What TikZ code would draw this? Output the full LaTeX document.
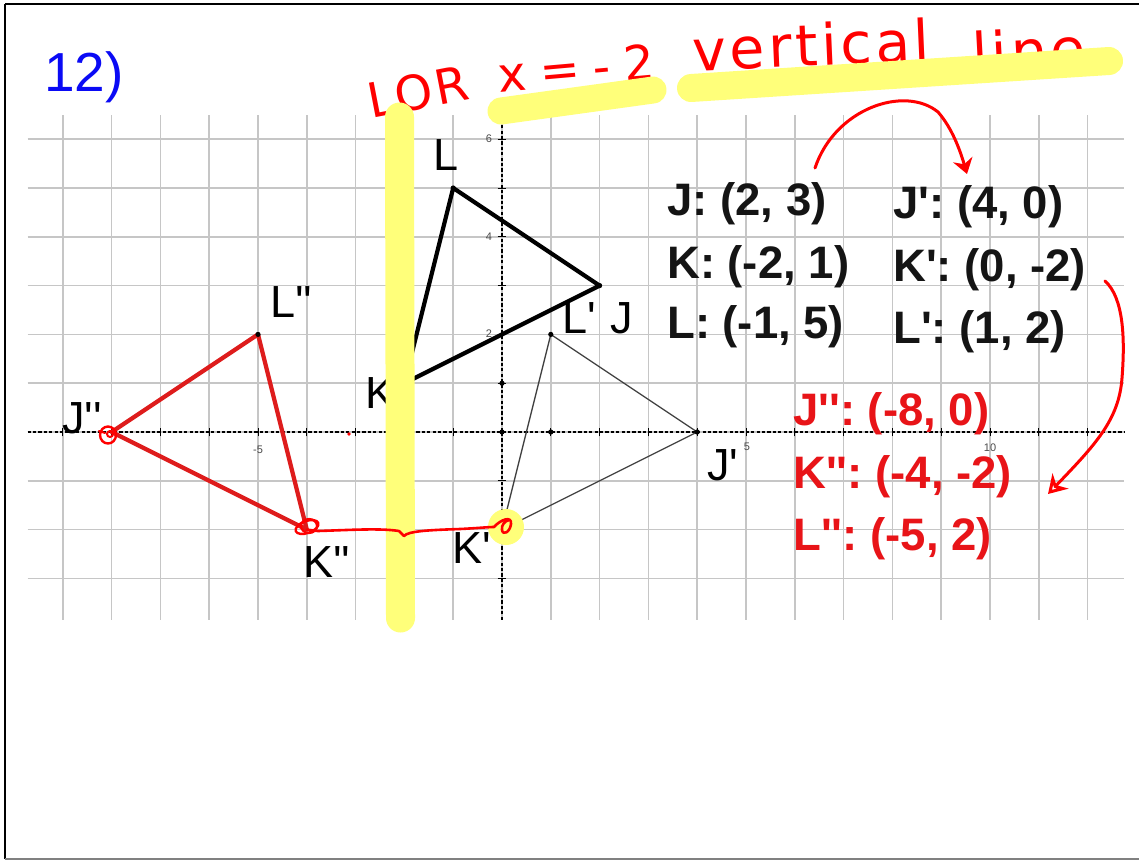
\documentclass[tikz,border=0pt]{standalone}
\usepackage{fontspec}
\setmainfont{Liberation Sans}[Ligatures=TeXOff]
\newfontfamily\handA{DejaVu Sans}[LetterSpace=6]
\newfontfamily\handB{DejaVu Sans}[LetterSpace=28]
\usetikzlibrary{arrows.meta}
\definecolor{hlyellow}{RGB}{255,255,122}
\definecolor{inkred}{RGB}{255,0,0}
\definecolor{txtred}{RGB}{232,20,24}
\definecolor{edgered}{RGB}{222,28,28}
\definecolor{gridgray}{RGB}{198,198,198}
\definecolor{inkblue}{RGB}{10,10,245}
\begin{document}
\begin{tikzpicture}[x=1pt,y=-1pt,
  gridline/.style={gridgray, line width=1.5pt},
  axisline/.style={black, line width=1.1pt, dash pattern=on 3.2pt off 2.2pt},
  tickmark/.style={black, line width=1pt},
  ticklabel/.style={font=\fontsize{11}{12}\selectfont, text=black!70, inner sep=0pt},
  thickedge/.style={black, line width=4.2pt, line join=round},
  thinedge/.style={black!75, line width=1.3pt, line join=round},
  rededge/.style={edgered, line width=4.2pt, line join=round},
  vlabel/.style={font=\fontsize{45}{50}\selectfont, anchor=base west, inner sep=0pt},
  coordtext/.style={font=\bfseries\fontsize{45.5}{50}\selectfont, anchor=base west, inner sep=0pt, text=black!92},
  redcoord/.style={coordtext, text=txtred},
  hand/.style={text=inkred, inner sep=0pt},
  highlight/.style={hlyellow, line cap=round},
  ink/.style={inkred, line width=3pt, line cap=round, line join=round},
]
\useasboundingbox (0,0) rectangle (1139,860);
\fill[white] (0,0) rectangle (1139,860);
% frame
\draw[black, line width=1.3pt] (5,4) -- (1139,4);
\draw[black, line width=1.5pt] (5,4) -- (5,859);
\draw[black!50, line width=2.5pt] (5,859) -- (1139,859);

% graph
\begin{scope}[shift={(502,432)}, x=48.8pt, y=48.8pt]
  \foreach \k in {-9,...,12} \draw[gridline] (\k,-3.85) -- (\k,6.5);
  \foreach \j in {-3,...,6} \draw[gridline] (-9.72,\j) -- (12.75,\j);
  \draw[axisline] (-9.72,0) -- (12.75,0);
  \draw[axisline] (0,-3.85) -- (0,6.5);
  \foreach \k in {-9,...,12} \draw[tickmark] (\k,-0.09) -- (\k,0.09);
  \foreach \j in {-3,...,6} \draw[tickmark] (-0.09,\j) -- (0.09,\j);
  \node[ticklabel] (t6) at (-0.27,6) {6};
  \node[ticklabel] (t4) at (-0.27,4) {4};
  \node[ticklabel] (t2) at (-0.27,2.02) {2};
  \node[ticklabel] (tm5) at (-5,-0.36) {-5};
  \node[ticklabel] (t5) at (5.02,-0.3) {5};
  \node[ticklabel] (t10) at (10,-0.33) {10};
  \coordinate (J) at (2,3);
  \coordinate (K) at (-2,1);
  \coordinate (L) at (-1,5);
  \coordinate (Jp) at (4,0);
  \coordinate (Kp) at (0,-2);
  \coordinate (Lp) at (1,2);
  \coordinate (Jpp) at (-8,0);
  \coordinate (Kpp) at (-4,-2);
  \coordinate (Lpp) at (-5,2);
  \draw[thinedge] (Jp) -- (Kp) -- (Lp) -- cycle;
  \draw[thickedge] (J) -- (K) -- (L) -- cycle;
  \draw[rededge] (Jpp) -- (Kpp) -- (Lpp) -- cycle;
  \foreach \p in {L,J,Lp,Jp,Lpp} \fill (\p) circle (2.6pt);
  \fill (0,1) circle (2.6pt);
  \fill (0,0) circle (2.6pt);
  \fill (1,0) circle (2.6pt);
\end{scope}

% vertex labels
\node[vlabel] (labL) at (433,170) {L};
\node[vlabel] (labLpp) at (270,317) {L''};
\node[vlabel] (labK) at (365,408) {K};
\node[vlabel] (labJpp) at (62,433) {J''};
\node[vlabel] (labKpp) at (303,577) {K''};
\node[vlabel] (labKp) at (452,563) {K'};
\node[vlabel] (labLp) at (562,333) {L'};
\node[vlabel] (labJ) at (610,333) {J};
\node[vlabel] (labJp) at (707,480) {J'};

% coordinate lists
\node[coordtext] (cJ) at (667,215) {J: (2, 3)};
\node[coordtext] (cK) at (667,278) {K: (-2, 1)};
\node[coordtext] (cL) at (667,338) {L: (-1, 5)};
\node[coordtext] (cJp) at (893,218) {J': (4, 0)};
\node[coordtext] (cKp) at (893,281) {K': (0, -2)};
\node[coordtext] (cLp) at (893,343) {L': (1, 2)};
\node[redcoord] (cJpp) at (793,425) {J'': (-8, 0)};
\node[redcoord] (cKpp) at (793,488) {K'': (-4, -2)};
\node[redcoord] (cLpp) at (793,550) {L'': (-5, 2)};

% problem number
\node[font=\fontsize{55}{57}\selectfont, text=inkblue, anchor=base west, inner sep=0pt] (num) at (44,91) {12)};

% handwriting
\node[hand, font=\handA\fontsize{48}{50}\selectfont, rotate=11] (hLOR) at (418,92) {LOR};
\node[hand, font=\handB\fontsize{48}{50}\selectfont, rotate=5] (hx) at (576,68) {x=-2};
\node[hand, font=\handA\fontsize{57}{60}\selectfont, rotate=2.5, anchor=base] (hvert) at (812,66) {vertical};
\node[hand, font=\handA\fontsize{57}{60}\selectfont, rotate=3, anchor=base] (hline) at (1030,72) {line};

% highlighter
\draw[highlight, line width=29pt] (399.5,117) -- (400.5,618);
\draw[highlight, line width=27pt] (501,111) -- (653,90);
\draw[highlight, line width=28pt] (691,88) -- (1109,61);
\fill[hlyellow] (506,527) circle (18pt);

% red ink marks
\coordinate (a1s) at (815,168);
\coordinate (a1e) at (967,174);
\draw[ink, -{Stealth[length=15pt,width=20pt]}] (a1s) .. controls (835,108) and (905,85) .. (938,112) .. controls (952,128) and (960,150) .. (a1e);
\coordinate (a2s) at (1105,281);
\coordinate (a2e) at (1048,494);
\draw[ink, -{Stealth[open,length=18pt,width=22pt]}] (a2s) .. controls (1124,298) and (1125,340) .. (1122,378) .. controls (1119,420) and (1095,445) .. (a2e);
\draw[ink, line width=2.6pt] (Kpp) -- (318,531) .. controls (350,530) and (380,528) .. (399,531) -- (404,536) .. controls (408,531) and (430,530) .. (460,529) .. controls (480,528) and (488,527) .. (494,527) .. controls (500,520) and (512,515) .. (511,524) .. controls (510,532) and (503,536) .. (502,530) .. controls (501,525) and (505,521) .. (509,520);
\draw[ink, line width=2.4pt] (108,435) ellipse [x radius=8pt, y radius=8.5pt];
\draw[ink, line width=2pt] (110,434) circle (3pt);
\draw[ink, line width=2pt] (99,431) -- (105,433);
\draw[ink, line width=2.4pt, rotate around={20:(307,527)}] (307,527) ellipse [x radius=12pt, y radius=6pt];
\draw[ink, line width=2.2pt] (309,526) ellipse [x radius=8pt, y radius=7pt];
\fill[inkred] (349,434) circle (1.8pt);
\end{tikzpicture}
\end{document}
